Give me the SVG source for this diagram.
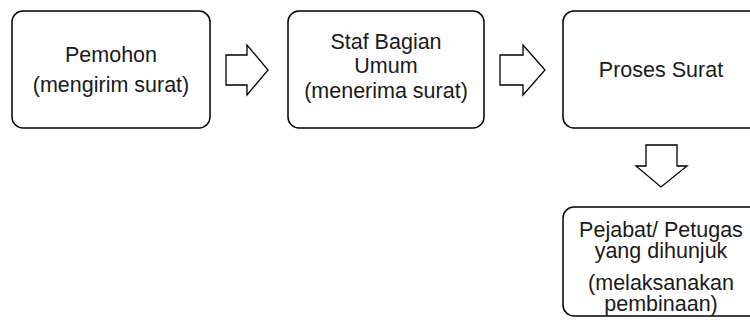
<svg xmlns="http://www.w3.org/2000/svg" width="750" height="320" viewBox="0 0 750 320">
<style>
.box{fill:#fff;stroke:#000;stroke-width:1.5}
.arr{fill:#fff;stroke:#000;stroke-width:1.3;stroke-linejoin:miter}
text{font-family:"Liberation Sans",Arial,sans-serif;font-size:21.5px;fill:#1a1a1a;text-anchor:middle}
</style>
<rect width="750" height="320" fill="#fff"/>
<g id="n1"><rect class="box" x="12" y="11" width="198" height="117" rx="11"/>
<text x="111" y="62">Pemohon</text><text x="111" y="92">(mengirim surat)</text></g>
<g id="n2"><rect class="box" x="288" y="11" width="196" height="117" rx="11"/>
<text x="386" y="49">Staf Bagian</text><text x="386" y="73">Umum</text><text x="386" y="98">(menerima surat)</text></g>
<g id="n3"><rect class="box" x="563" y="11" width="197" height="117" rx="11"/>
<text x="661" y="77">Proses Surat</text></g>
<g id="n4"><rect class="box" x="563" y="207" width="197" height="109" rx="11"/>
<text x="661" y="237">Pejabat/ Petugas</text><text x="661" y="258">yang dihunjuk</text><text x="661" y="290">(melaksanakan</text><text x="661" y="311">pembinaan)</text></g>
<g id="connectors">
<polygon class="arr" points="226,55 247,55 247,45 268,70 247,95 247,85 226,85"/>
<polygon class="arr" points="500,55 523,55 523,45 545,70 523,95 523,85 500,85"/>
<polygon class="arr" points="646,145 677,145 677,166 687,166 661,187 636,166 646,166"/>
</g>
</svg>
